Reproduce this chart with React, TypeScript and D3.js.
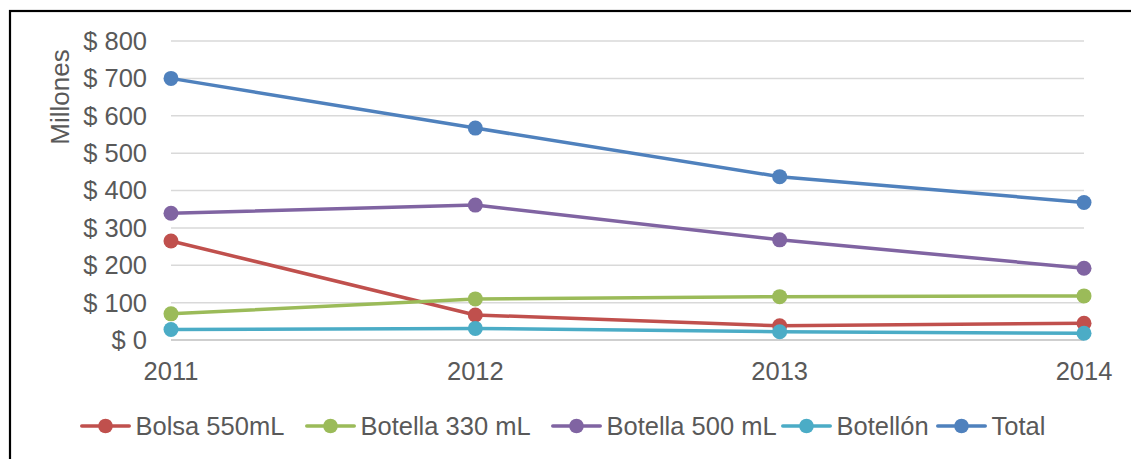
import React from "react";
import * as d3 from "d3";

const years = ["2011", "2012", "2013", "2014"];
const bolsa550 = [265, 67, 38, 45];
const botella330 = [70, 110, 116, 118];
const botella500 = [339, 361, 268, 192];
const botellon = [28, 31, 22, 18];
const total = [700, 567, 437, 368];
const yTicks = [0, 100, 200, 300, 400, 500, 600, 700, 800];

const seriesNames = ["Bolsa 550mL", "Botella 330 mL", "Botella 500 mL", "Botellón", "Total"];
const seriesValues = [bolsa550, botella330, botella500, botellon, total];
const seriesColors = ["#C0504D", "#9BBB59", "#8064A2", "#4BACC6", "#4F81BD"];

const W = 1131;
const H = 459;
const FONT = "'Liberation Sans', Arial, sans-serif";
const TEXT = "#595959";

// legend entry left edges
const legendX = [80, 305, 551, 781, 936];
const LEGEND_LINE = 51;

export default function App() {
  const x = d3.scalePoint<string>().domain(years).range([171, 1084]);
  const y = d3.scaleLinear().domain([0, 800]).range([340, 41]);
  const line = d3
    .line<number>()
    .x((_, i) => x(years[i]) as number)
    .y((d) => y(d));

  return (
    <svg
      width={W}
      height={H}
      style={{ position: "absolute", left: 0, top: 0, background: "#fff" }}
      fontFamily={FONT}
    >
      <rect x={10} y={11} width={W + 10} height={H + 10} fill="#fff" stroke="#000" strokeWidth={2.2} />

      {/* gridlines */}
      {yTicks.map((t) => (
        <line
          key={t}
          x1={171}
          x2={1084}
          y1={y(t)}
          y2={y(t)}
          stroke={t === 0 ? "#BFBFBF" : "#D9D9D9"}
          strokeWidth={1.5}
        />
      ))}

      {/* y tick labels */}
      {yTicks.map((t) => (
        <text
          key={t}
          x={147}
          y={y(t)}
          dy="0.35em"
          textAnchor="end"
          fontSize={25.5}
          fill={TEXT}
        >
          {`$ ${t}`}
        </text>
      ))}

      {/* y axis title */}
      <text
        transform={`translate(68.5, 97) rotate(-90)`}
        textAnchor="middle"
        fontSize={26}
        fill={TEXT}
      >
        Millones
      </text>

      {/* x tick labels */}
      {years.map((yr) => (
        <text key={yr} x={x(yr)} y={380} textAnchor="middle" fontSize={25.5} fill={TEXT}>
          {yr}
        </text>
      ))}

      {/* series */}
      {seriesValues.map((vals, s) => (
        <g key={seriesNames[s]}>
          <path
            d={line(vals) as string}
            fill="none"
            stroke={seriesColors[s]}
            strokeWidth={3.5}
            strokeLinejoin="round"
            strokeLinecap="round"
          />
          {vals.map((v, i) => (
            <circle key={i} cx={x(years[i])} cy={y(v)} r={7.5} fill={seriesColors[s]} />
          ))}
        </g>
      ))}

      {/* legend */}
      {seriesNames.map((name, s) => (
        <g key={name} transform={`translate(${legendX[s]}, 426)`}>
          <line
            x1={1.75}
            x2={LEGEND_LINE - 1.75}
            y1={0}
            y2={0}
            stroke={seriesColors[s]}
            strokeWidth={3.5}
            strokeLinecap="round"
          />
          <circle cx={LEGEND_LINE / 2} cy={0} r={7.3} fill={seriesColors[s]} />
          <text x={LEGEND_LINE + 4.5} y={8.5} fontSize={25.5} fill={TEXT}>
            {name}
          </text>
        </g>
      ))}
    </svg>
  );
}
